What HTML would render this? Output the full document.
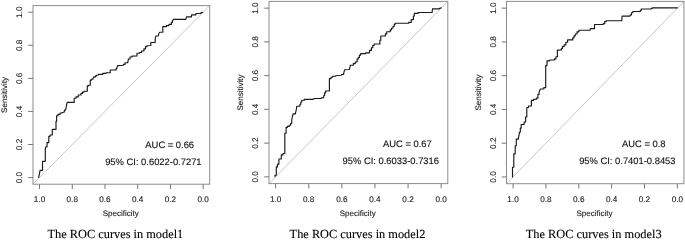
<!DOCTYPE html>
<html><head><meta charset="utf-8"><title>ROC curves</title>
<style>
html,body{margin:0;padding:0;background:#fff;}
svg{display:block}
text{font-family:"Liberation Sans",Arial,sans-serif;fill:#222;text-rendering:geometricPrecision}
.tk{font-size:8.2px;fill:#222;stroke:#222;stroke-width:0.12}
.lb{font-size:8.0px;fill:#222;stroke:#222;stroke-width:0.12}
.an{font-size:9.38px;fill:#141414;stroke:#141414;stroke-width:0.14}
.cap{font-family:"Liberation Serif","Times New Roman",serif;font-size:12.35px;fill:#000;stroke:#000;stroke-width:0.1}
.box{fill:none;stroke:#8c8c8c;stroke-width:1}
.tick{stroke:#767676;stroke-width:1;fill:none}
.diag{stroke:#c8c8c8;stroke-width:1;fill:none}
.roc{stroke:#1a1a1a;stroke-width:1.15;fill:none;stroke-linejoin:round;stroke-linecap:round}
</style></head><body>
<svg width="685" height="240" viewBox="0 0 685 240">
<rect width="685" height="240" fill="#fff"/>

<g>
<line class="diag" x1="33.00" y1="184.20" x2="209.70" y2="5.60"/>
<rect class="box" x="33.00" y="5.60" width="176.70" height="178.60"/>
<line class="tick" x1="28.20" y1="177.59" x2="33.00" y2="177.59"/>
<text class="tk" text-anchor="middle" transform="translate(22.30,177.59) rotate(-90)">0.0</text>
<line class="tick" x1="203.16" y1="184.20" x2="203.16" y2="189.00"/>
<text class="tk" text-anchor="middle" x="203.16" y="201.55">0.0</text>
<line class="tick" x1="28.20" y1="144.51" x2="33.00" y2="144.51"/>
<text class="tk" text-anchor="middle" transform="translate(22.30,144.51) rotate(-90)">0.2</text>
<line class="tick" x1="170.43" y1="184.20" x2="170.43" y2="189.00"/>
<text class="tk" text-anchor="middle" x="170.43" y="201.55">0.2</text>
<line class="tick" x1="28.20" y1="111.44" x2="33.00" y2="111.44"/>
<text class="tk" text-anchor="middle" transform="translate(22.30,111.44) rotate(-90)">0.4</text>
<line class="tick" x1="137.71" y1="184.20" x2="137.71" y2="189.00"/>
<text class="tk" text-anchor="middle" x="137.71" y="201.55">0.4</text>
<line class="tick" x1="28.20" y1="78.36" x2="33.00" y2="78.36"/>
<text class="tk" text-anchor="middle" transform="translate(22.30,78.36) rotate(-90)">0.6</text>
<line class="tick" x1="104.99" y1="184.20" x2="104.99" y2="189.00"/>
<text class="tk" text-anchor="middle" x="104.99" y="201.55">0.6</text>
<line class="tick" x1="28.20" y1="45.29" x2="33.00" y2="45.29"/>
<text class="tk" text-anchor="middle" transform="translate(22.30,45.29) rotate(-90)">0.8</text>
<line class="tick" x1="72.27" y1="184.20" x2="72.27" y2="189.00"/>
<text class="tk" text-anchor="middle" x="72.27" y="201.55">0.8</text>
<line class="tick" x1="28.20" y1="12.21" x2="33.00" y2="12.21"/>
<text class="tk" text-anchor="middle" transform="translate(22.30,12.21) rotate(-90)">1.0</text>
<line class="tick" x1="39.54" y1="184.20" x2="39.54" y2="189.00"/>
<text class="tk" text-anchor="middle" x="39.54" y="201.55">1.0</text>
<text class="lb" text-anchor="middle" x="120.65" y="215.5">Specificity</text>
<text class="lb" text-anchor="middle" transform="translate(7.00,94.90) rotate(-90)">Sensitivity</text>
<text class="an" text-anchor="middle" x="169.73" y="148.31">AUC = 0.66</text>
<text class="an" text-anchor="middle" x="153.37" y="164.95">95% CI: 0.6022-0.7271</text>
<text class="cap" text-anchor="middle" x="115.40" y="238.2">The ROC curves in model1</text>
<path class="roc" d="M38.6 177.4 L39.3 174.5 L40.0 171.0 L40.0 170.3 L42.5 170.3 L42.5 161.3 L45.3 161.3 L45.3 150.0 L45.6 147.0 L47.0 147.0 L47.0 142.6 L48.8 142.6 L48.8 136.3 L50.1 136.3 L50.1 135.0 L52.3 135.0 L52.3 129.4 L56.0 129.4 L56.0 121.3 L56.6 121.3 L56.6 116.4 L56.6 115.7 L58.0 115.7 L58.0 115.0 L58.0 114.3 L60.1 114.3 L60.1 113.6 L60.1 113.0 L62.0 113.0 L62.0 112.5 L64.1 112.3 L64.1 110.9 L65.0 110.9 L65.0 109.5 L65.8 109.5 L66.5 105.0 L67.3 102.3 L74.2 102.3 L74.2 98.8 L74.2 98.2 L76.0 98.2 L76.0 97.5 L76.0 96.8 L78.3 96.8 L78.3 96.0 L78.3 95.0 L81.0 95.0 L81.0 94.0 L81.0 93.4 L82.5 93.4 L82.5 92.1 L84.0 92.1 L84.0 91.5 L84.0 91.2 L87.3 91.2 L87.3 91.0 L87.3 86.3 L87.3 85.8 L88.5 85.8 L88.5 85.2 L90.3 85.1 L90.3 80.7 L90.3 80.1 L91.5 80.1 L91.5 79.5 L91.5 79.2 L92.9 79.2 L92.9 78.8 L93.8 77.2 L93.8 76.8 L95.5 76.8 L95.5 76.3 L95.5 75.8 L96.5 75.8 L96.5 75.2 L98.3 75.0 L98.3 74.4 L102.7 74.4 L102.7 73.8 L102.7 73.4 L106.0 73.4 L106.0 73.0 L106.0 72.7 L110.2 72.7 L110.2 72.3 L110.2 70.0 L116.1 70.0 L116.1 68.5 L117.0 68.5 L117.0 67.0 L117.7 65.6 L123.4 65.3 L123.4 64.4 L125.0 64.4 L125.0 63.5 L125.0 62.7 L127.8 62.7 L127.8 61.9 L128.3 60.0 L128.3 59.0 L130.0 59.0 L130.0 58.0 L130.0 57.0 L132.0 57.0 L132.0 56.1 L137.0 56.0 L137.0 53.2 L139.5 53.2 L139.5 52.5 L141.5 52.5 L141.5 51.8 L141.5 51.0 L143.9 51.0 L143.9 50.1 L143.9 48.8 L145.5 48.8 L145.5 47.5 L145.5 46.6 L147.0 46.6 L147.0 45.7 L150.8 45.5 L150.8 42.5 L155.2 42.5 L155.2 39.0 L155.8 36.0 L158.3 36.0 L158.8 33.5 L159.6 32.5 L159.6 32.2 L162.8 32.2 L162.8 32.0 L162.8 27.0 L162.8 26.6 L166.4 26.6 L166.4 26.3 L166.4 25.6 L169.0 25.6 L169.0 25.0 L169.0 24.4 L171.4 24.4 L171.4 23.8 L171.4 22.4 L172.5 22.4 L172.5 21.0 L173.3 19.4 L185.8 19.4 L186.5 16.9 L191.5 16.9 L191.5 14.8 L195.9 14.8 L195.9 13.5 L200.3 13.5 L200.3 13.1 L201.5 13.1 L201.5 12.6 L202.8 12.3"/>
</g>
<g>
<line class="diag" x1="269.00" y1="183.60" x2="447.80" y2="1.40"/>
<rect class="box" x="269.00" y="1.40" width="178.80" height="182.20"/>
<line class="tick" x1="264.20" y1="176.85" x2="269.00" y2="176.85"/>
<text class="tk" text-anchor="middle" transform="translate(258.30,176.85) rotate(-90)">0.0</text>
<line class="tick" x1="441.18" y1="183.60" x2="441.18" y2="188.40"/>
<text class="tk" text-anchor="middle" x="441.18" y="201.55">0.0</text>
<line class="tick" x1="264.20" y1="143.11" x2="269.00" y2="143.11"/>
<text class="tk" text-anchor="middle" transform="translate(258.30,143.11) rotate(-90)">0.2</text>
<line class="tick" x1="408.07" y1="183.60" x2="408.07" y2="188.40"/>
<text class="tk" text-anchor="middle" x="408.07" y="201.55">0.2</text>
<line class="tick" x1="264.20" y1="109.37" x2="269.00" y2="109.37"/>
<text class="tk" text-anchor="middle" transform="translate(258.30,109.37) rotate(-90)">0.4</text>
<line class="tick" x1="374.96" y1="183.60" x2="374.96" y2="188.40"/>
<text class="tk" text-anchor="middle" x="374.96" y="201.55">0.4</text>
<line class="tick" x1="264.20" y1="75.63" x2="269.00" y2="75.63"/>
<text class="tk" text-anchor="middle" transform="translate(258.30,75.63) rotate(-90)">0.6</text>
<line class="tick" x1="341.84" y1="183.60" x2="341.84" y2="188.40"/>
<text class="tk" text-anchor="middle" x="341.84" y="201.55">0.6</text>
<line class="tick" x1="264.20" y1="41.89" x2="269.00" y2="41.89"/>
<text class="tk" text-anchor="middle" transform="translate(258.30,41.89) rotate(-90)">0.8</text>
<line class="tick" x1="308.73" y1="183.60" x2="308.73" y2="188.40"/>
<text class="tk" text-anchor="middle" x="308.73" y="201.55">0.8</text>
<line class="tick" x1="264.20" y1="8.15" x2="269.00" y2="8.15"/>
<text class="tk" text-anchor="middle" transform="translate(258.30,8.15) rotate(-90)">1.0</text>
<line class="tick" x1="275.62" y1="183.60" x2="275.62" y2="188.40"/>
<text class="tk" text-anchor="middle" x="275.62" y="201.55">1.0</text>
<text class="lb" text-anchor="middle" x="357.70" y="215.5">Specificity</text>
<text class="lb" text-anchor="middle" transform="translate(243.00,92.50) rotate(-90)">Sensitivity</text>
<text class="an" text-anchor="middle" x="407.37" y="146.91">AUC = 0.67</text>
<text class="an" text-anchor="middle" x="390.81" y="163.88">95% CI: 0.6033-0.7316</text>
<text class="cap" text-anchor="middle" x="357.50" y="238.2">The ROC curves in model2</text>
<path class="roc" d="M275.0 176.6 L275.0 175.2 L276.3 175.2 L276.3 173.8 L276.3 168.2 L276.3 166.9 L277.5 166.9 L277.5 165.7 L277.5 164.1 L278.9 164.1 L278.9 162.5 L278.9 159.0 L281.3 159.0 L281.3 155.6 L281.3 154.9 L283.0 154.9 L283.0 154.2 L283.0 153.5 L284.8 153.5 L284.8 152.8 L284.8 133.2 L286.1 133.2 L286.1 127.8 L286.1 127.3 L287.5 127.3 L287.5 126.8 L287.5 126.4 L289.2 126.4 L289.2 126.0 L289.2 125.2 L290.6 125.2 L290.6 124.5 L290.6 123.5 L291.7 123.5 L291.7 122.5 L291.7 120.0 L292.3 117.0 L293.0 114.5 L293.0 113.8 L295.5 113.8 L295.5 113.2 L296.2 110.0 L296.7 107.0 L296.7 106.2 L299.9 106.2 L299.9 105.3 L299.9 104.2 L300.8 104.2 L300.8 103.0 L300.8 102.0 L301.8 102.0 L301.8 101.0 L301.8 100.2 L304.3 100.2 L304.3 99.4 L313.0 99.4 L313.0 99.0 L314.0 99.0 L314.0 98.5 L321.2 98.5 L321.2 97.7 L323.7 97.7 L323.7 96.9 L323.7 95.5 L324.6 95.5 L324.6 94.0 L324.6 92.8 L325.6 92.8 L325.6 91.5 L325.6 91.0 L329.4 91.0 L329.4 90.6 L329.4 79.4 L329.4 78.6 L331.0 78.6 L331.0 77.8 L331.0 77.2 L332.6 77.2 L332.6 76.6 L332.6 76.2 L335.7 76.2 L335.7 75.7 L341.4 75.3 L341.4 74.5 L343.6 74.5 L343.6 73.8 L344.5 69.8 L349.5 69.5 L350.2 66.0 L350.2 65.2 L353.3 65.2 L353.3 64.4 L353.3 63.6 L355.2 63.6 L355.2 62.8 L355.2 62.0 L357.1 62.0 L357.1 61.3 L357.1 60.0 L357.1 59.1 L358.2 59.1 L358.2 57.5 L359.4 57.5 L359.4 56.6 L359.4 55.1 L360.7 55.1 L360.7 53.6 L365.7 53.6 L365.7 52.8 L369.5 52.8 L369.5 52.0 L369.5 50.4 L371.4 50.4 L371.4 48.8 L371.4 47.7 L372.8 47.7 L372.8 45.5 L374.1 45.5 L374.1 44.4 L374.1 44.0 L379.9 44.0 L379.9 43.6 L379.9 40.2 L380.8 40.2 L380.8 36.9 L380.8 36.0 L385.4 36.0 L385.4 35.0 L385.4 33.9 L386.7 33.9 L386.7 32.8 L386.7 31.7 L390.2 31.7 L390.2 30.6 L390.2 29.8 L391.5 29.8 L391.5 28.2 L392.9 28.2 L392.9 26.5 L394.2 26.5 L394.2 25.7 L394.2 24.4 L395.1 24.4 L395.1 23.2 L408.7 23.2 L408.7 22.4 L411.2 22.4 L411.2 21.6 L411.2 19.6 L413.4 19.6 L413.4 17.6 L413.4 16.0 L414.3 16.0 L414.3 14.4 L414.3 13.4 L418.1 13.4 L418.1 12.5 L432.1 12.5 L432.5 8.8 L439.4 8.8 L439.4 8.2 L441.0 8.2 L441.0 7.5"/>
</g>
<g>
<line class="diag" x1="506.50" y1="183.70" x2="683.90" y2="1.40"/>
<rect class="box" x="506.50" y="1.40" width="177.40" height="182.30"/>
<line class="tick" x1="501.70" y1="176.95" x2="506.50" y2="176.95"/>
<text class="tk" text-anchor="middle" transform="translate(495.80,176.95) rotate(-90)">0.0</text>
<line class="tick" x1="677.33" y1="183.70" x2="677.33" y2="188.50"/>
<text class="tk" text-anchor="middle" x="677.33" y="201.55">0.0</text>
<line class="tick" x1="501.70" y1="143.19" x2="506.50" y2="143.19"/>
<text class="tk" text-anchor="middle" transform="translate(495.80,143.19) rotate(-90)">0.2</text>
<line class="tick" x1="644.48" y1="183.70" x2="644.48" y2="188.50"/>
<text class="tk" text-anchor="middle" x="644.48" y="201.55">0.2</text>
<line class="tick" x1="501.70" y1="109.43" x2="506.50" y2="109.43"/>
<text class="tk" text-anchor="middle" transform="translate(495.80,109.43) rotate(-90)">0.4</text>
<line class="tick" x1="611.63" y1="183.70" x2="611.63" y2="188.50"/>
<text class="tk" text-anchor="middle" x="611.63" y="201.55">0.4</text>
<line class="tick" x1="501.70" y1="75.67" x2="506.50" y2="75.67"/>
<text class="tk" text-anchor="middle" transform="translate(495.80,75.67) rotate(-90)">0.6</text>
<line class="tick" x1="578.77" y1="183.70" x2="578.77" y2="188.50"/>
<text class="tk" text-anchor="middle" x="578.77" y="201.55">0.6</text>
<line class="tick" x1="501.70" y1="41.91" x2="506.50" y2="41.91"/>
<text class="tk" text-anchor="middle" transform="translate(495.80,41.91) rotate(-90)">0.8</text>
<line class="tick" x1="545.92" y1="183.70" x2="545.92" y2="188.50"/>
<text class="tk" text-anchor="middle" x="545.92" y="201.55">0.8</text>
<line class="tick" x1="501.70" y1="8.15" x2="506.50" y2="8.15"/>
<text class="tk" text-anchor="middle" transform="translate(495.80,8.15) rotate(-90)">1.0</text>
<line class="tick" x1="513.07" y1="183.70" x2="513.07" y2="188.50"/>
<text class="tk" text-anchor="middle" x="513.07" y="201.55">1.0</text>
<text class="lb" text-anchor="middle" x="594.50" y="215.5">Specificity</text>
<text class="lb" text-anchor="middle" transform="translate(480.50,92.55) rotate(-90)">Sensitivity</text>
<text class="an" text-anchor="middle" x="643.78" y="146.99">AUC = 0.8</text>
<text class="an" text-anchor="middle" x="627.35" y="163.97">95% CI: 0.7401-0.8453</text>
<text class="cap" text-anchor="middle" x="593.70" y="238.2">The ROC curves in model3</text>
<path class="roc" d="M512.5 177.0 L512.5 168.2 L512.5 167.2 L513.8 167.2 L513.8 166.3 L513.8 154.4 L513.8 153.8 L515.2 153.8 L515.2 153.1 L515.2 145.7 L516.3 145.7 L516.3 140.0 L516.3 139.1 L518.4 139.1 L518.4 138.2 L519.3 133.8 L519.3 132.2 L520.3 132.2 L520.3 130.7 L520.3 128.1 L521.2 128.1 L521.2 125.6 L521.2 124.5 L524.1 124.5 L524.1 123.5 L524.1 122.0 L525.6 122.0 L525.6 120.6 L525.6 117.0 L526.8 117.0 L526.8 108.8 L526.8 107.5 L528.5 107.5 L528.5 106.3 L528.5 106.0 L531.4 106.0 L531.4 105.7 L531.4 101.3 L531.4 100.3 L533.5 100.3 L533.5 99.4 L536.4 99.2 L536.4 98.1 L537.9 98.1 L537.9 96.9 L537.9 94.4 L539.1 94.4 L539.1 91.9 L540.0 90.0 L540.2 89.0 L543.8 88.9 L543.8 87.6 L545.7 87.6 L545.7 86.3 L545.7 65.6 L547.0 65.6 L547.0 61.3 L547.0 60.8 L549.7 60.8 L549.7 60.3 L549.7 60.0 L554.5 60.0 L554.5 59.8 L554.5 58.8 L556.0 58.8 L556.0 56.7 L557.4 56.7 L557.4 55.7 L557.4 50.1 L561.4 50.0 L561.4 48.5 L562.4 48.5 L562.4 47.0 L562.4 46.6 L564.1 46.6 L564.1 46.3 L564.1 44.9 L565.8 44.9 L565.8 43.5 L565.8 42.2 L567.6 42.2 L567.6 41.0 L567.6 39.9 L572.7 39.9 L572.7 38.8 L572.7 37.8 L574.0 37.8 L574.0 35.9 L575.2 35.9 L575.2 35.0 L575.2 34.0 L577.0 34.0 L577.0 33.0 L577.0 31.8 L578.9 31.8 L578.9 30.6 L578.9 30.2 L590.1 30.2 L590.1 29.8 L590.5 28.6 L594.5 28.6 L594.5 24.5 L603.2 24.5 L603.2 23.6 L604.7 23.6 L604.7 21.6 L606.1 21.6 L606.1 20.7 L621.8 20.7 L622.1 16.1 L630.0 16.1 L630.0 15.0 L631.4 15.0 L631.4 12.7 L632.8 12.7 L632.8 11.5 L640.3 11.5 L640.3 10.2 L641.3 10.2 L641.3 9.0 L651.3 9.0 L651.3 8.4 L652.3 8.4 L652.3 7.8 L677.5 7.8"/>
</g>
</svg></body></html>
